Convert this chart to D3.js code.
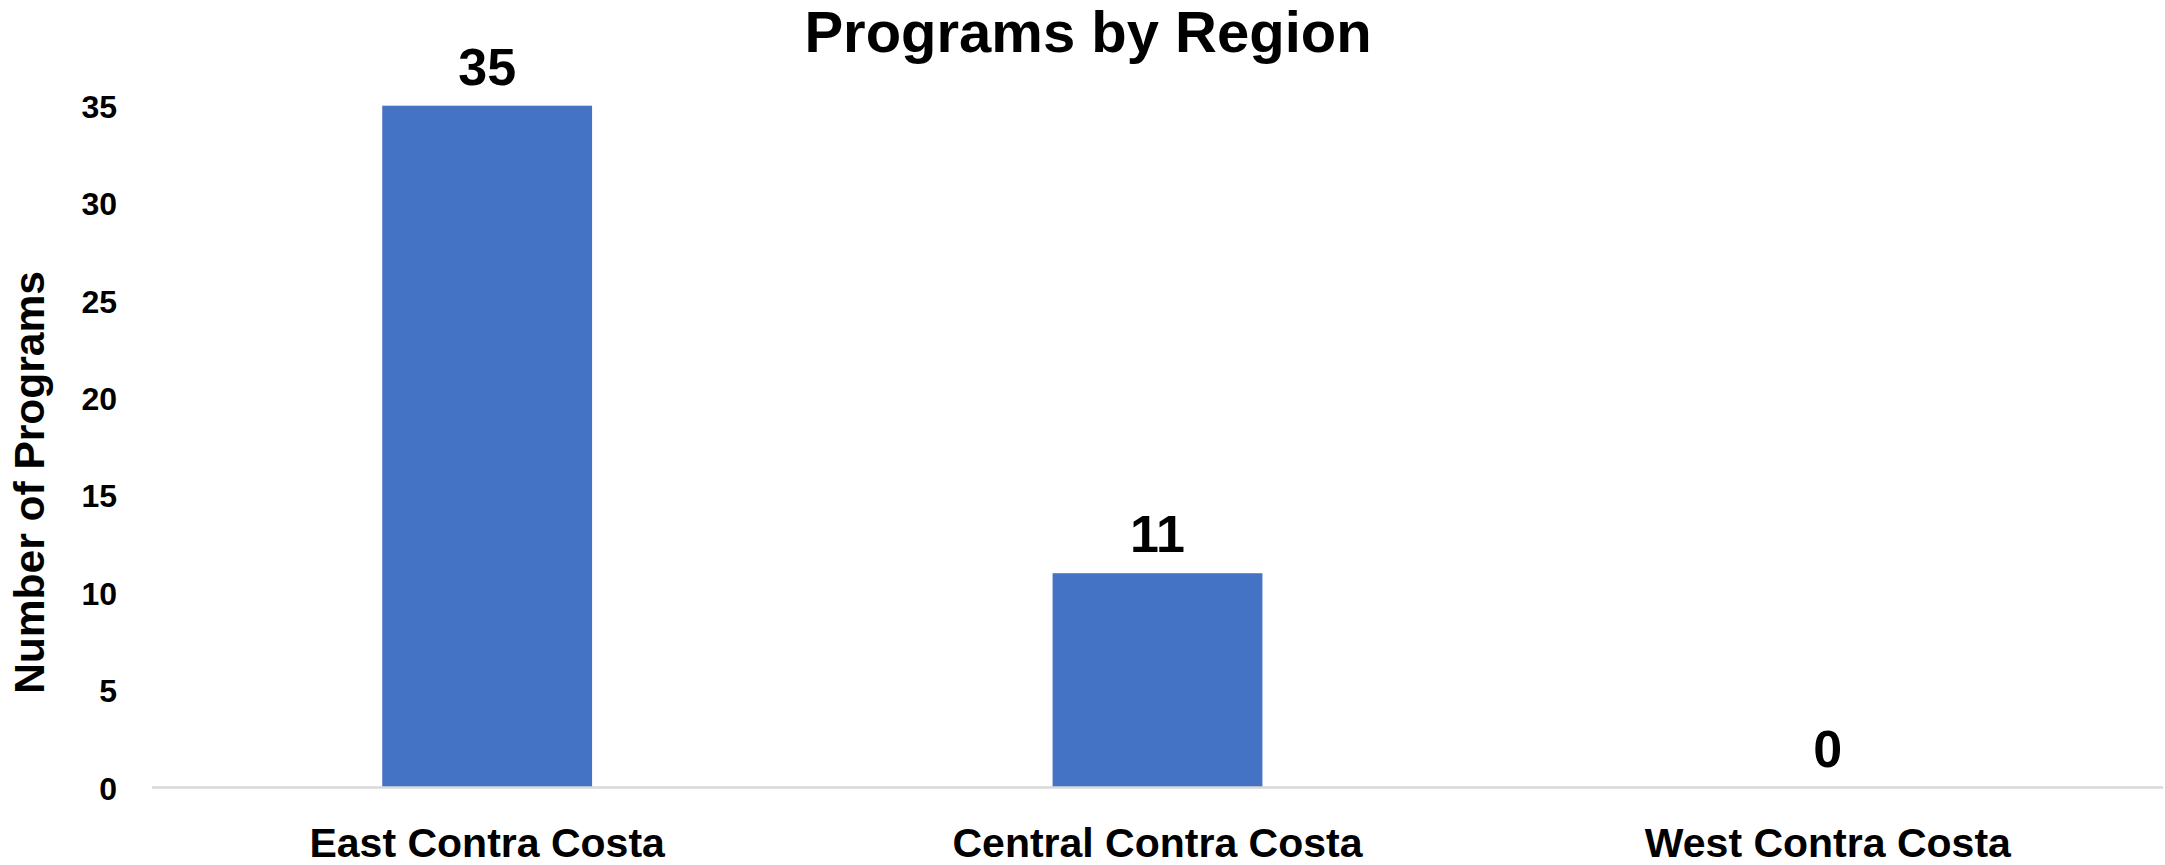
<!DOCTYPE html>
<html>
<head>
<meta charset="utf-8">
<script src="https://cdn.jsdelivr.net/npm/d3@7"></script>
<style>
  html, body { margin: 0; padding: 0; background: #fff; }
  svg { display: block; }
</style>
</head>
<body>
<svg id="chart" width="2165" height="865"></svg>
<script>
const categories = ["East Contra Costa", "Central Contra Costa", "West Contra Costa"];
const values = [35, 11, 0];
const yTicks = [0, 5, 10, 15, 20, 25, 30, 35];
const chartTitle = "Programs by Region";
const yTitle = "Number of Programs";

const W = 2165, H = 865;
const plot = { left: 152, right: 2163, top: 105.7, bottom: 787.5 };
const font = "'Liberation Sans', Arial, sans-serif";

const svg = d3.select("#chart");

const x = d3.scaleBand()
  .domain(categories)
  .range([plot.left, plot.right])
  .paddingInner(0.687)
  .paddingOuter(0.3435);

const y = d3.scaleLinear()
  .domain([0, 35])
  .range([plot.bottom, plot.top]);

// bars
svg.append("g").selectAll("rect")
  .data(values)
  .join("rect")
  .attr("x", (d, i) => x(categories[i]))
  .attr("y", d => y(d))
  .attr("width", x.bandwidth())
  .attr("height", d => y(0) - y(d))
  .attr("fill", "#4472C4");

// x axis line
svg.append("line")
  .attr("x1", plot.left).attr("x2", plot.right)
  .attr("y1", y(0)).attr("y2", y(0))
  .attr("stroke", "#d9d9d9").attr("stroke-width", 2.5);

// y axis tick labels
const yAxis = d3.axisLeft(y).tickValues(yTicks).tickSize(0).tickPadding(0).tickFormat(d3.format("d"));
const yg = svg.append("g").attr("transform", "translate(117,0)").call(yAxis);
yg.select(".domain").remove();
yg.selectAll("text")
  .attr("font-family", font)
  .attr("font-weight", "bold")
  .attr("font-size", 32)
  .attr("fill", "#000")
  .attr("dy", "0.36em");

// x axis category labels
const xAxis = d3.axisBottom(x).tickSize(0).tickPadding(0);
const xg = svg.append("g").attr("transform", `translate(0,${y(0)})`).call(xAxis);
xg.select(".domain").remove();
xg.selectAll("text")
  .attr("font-family", font)
  .attr("font-weight", "bold")
  .attr("font-size", 41)
  .attr("fill", "#000")
  .attr("dy", null)
  .attr("y", 857 - y(0));

// value labels
svg.append("g").selectAll("text")
  .data(values)
  .join("text")
  .attr("x", (d, i) => x(categories[i]) + x.bandwidth() / 2)
  .attr("y", d => y(d) - 21)
  .attr("text-anchor", "middle")
  .attr("font-family", font)
  .attr("font-weight", "bold")
  .attr("font-size", 52)
  .attr("fill", "#000")
  .text(d => d);

// title
svg.append("text")
  .attr("x", 1088).attr("y", 52)
  .attr("text-anchor", "middle")
  .attr("font-family", font)
  .attr("font-weight", "bold")
  .attr("font-size", 58)
  .attr("fill", "#000")
  .text(chartTitle);

// y axis title
svg.append("text")
  .attr("transform", `translate(44,${(272 + 693) / 2}) rotate(-90)`)
  .attr("text-anchor", "middle")
  .attr("font-family", font)
  .attr("font-weight", "bold")
  .attr("font-size", 42.5)
  .attr("fill", "#000")
  .text(yTitle);
</script>
</body>
</html>
